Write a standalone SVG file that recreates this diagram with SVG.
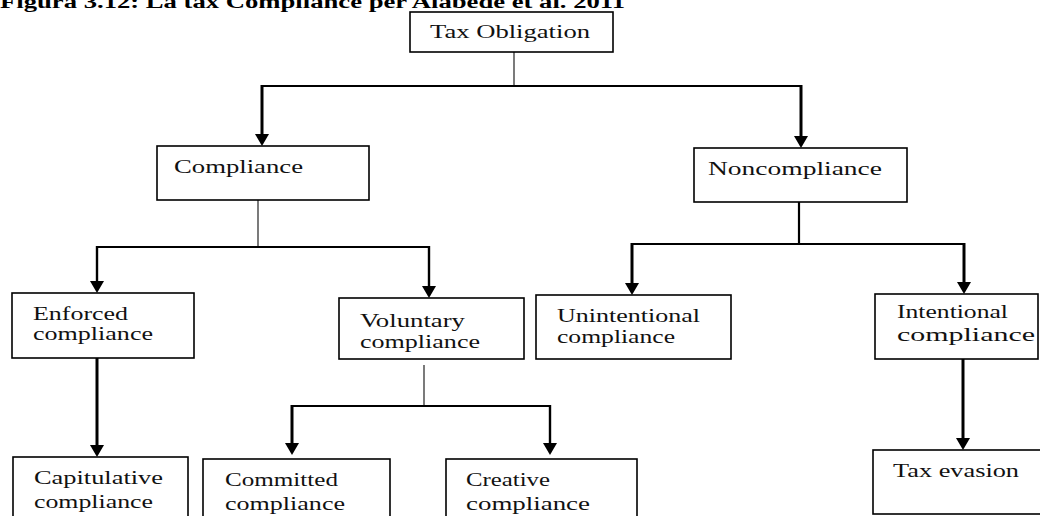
<svg xmlns="http://www.w3.org/2000/svg" width="1040" height="516" viewBox="0 0 1040 516">
  <style>
    .box { fill: #ffffff; stroke: #000000; stroke-width: 1.6; }
    .lbl { font-family: "Liberation Serif", "Times New Roman", serif; font-size: 18.5px; fill: #111111; }
    .title { font-family: "Liberation Serif", "Times New Roman", serif; font-size: 18.5px; font-weight: bold; fill: #000000; }
    .thin { stroke: #222222; stroke-width: 1.2; fill: none; }
    .bar { stroke: #000000; stroke-width: 2.2; fill: none; }
    .shaft { stroke: #000000; stroke-width: 3; fill: none; marker-end: url(#head); }
    .shaft2 { stroke: #000000; stroke-width: 2.4; fill: none; marker-end: url(#head); }
  </style>
  <defs>
    <marker id="head" markerUnits="userSpaceOnUse" viewBox="0 0 12 14" refX="6" refY="7" markerWidth="12" markerHeight="14" orient="auto">
      <path d="M0,0 L12,7 L0,14 Z" fill="#000000"/>
    </marker>
  </defs>

  <rect width="1040" height="516" fill="#ffffff"/>

  <text class="title" x="0" y="8" textLength="625" lengthAdjust="spacingAndGlyphs">Figura 3.12: La tax Compliance per Alabede et al. 2011</text>

  <!-- connectors -->
  <g id="connectors">
    <!-- Tax Obligation split -->
    <line class="thin" x1="514" y1="52" x2="514" y2="86"/>
    <line class="bar" x1="261" y1="86" x2="802" y2="86"/>
    <line class="shaft" x1="262" y1="85" x2="262" y2="140"/>
    <line class="shaft" x1="801" y1="85" x2="801" y2="142"/>
    <!-- Compliance split -->
    <line class="thin" x1="258" y1="200" x2="258" y2="247"/>
    <line class="bar" x1="96" y1="247" x2="430" y2="247"/>
    <line class="shaft2" x1="97" y1="246" x2="97" y2="287"/>
    <line class="shaft2" x1="429" y1="246" x2="429" y2="292"/>
    <!-- Noncompliance split -->
    <line class="bar" x1="799" y1="202" x2="799" y2="244"/>
    <line class="bar" x1="631" y1="244" x2="965" y2="244"/>
    <line class="shaft" x1="632" y1="243" x2="632" y2="289"/>
    <line class="shaft" x1="964" y1="243" x2="964" y2="288"/>
    <!-- Enforced to Capitulative -->
    <line class="shaft" x1="97" y1="358" x2="97" y2="451"/>
    <!-- Voluntary split -->
    <line class="thin" x1="424" y1="365" x2="424" y2="406"/>
    <line class="bar" x1="291" y1="406" x2="551" y2="406"/>
    <line class="shaft" x1="292" y1="405" x2="292" y2="449"/>
    <line class="shaft2" x1="550" y1="405" x2="550" y2="449"/>
    <!-- Intentional to Tax evasion -->
    <line class="shaft" x1="963" y1="359" x2="963" y2="444"/>
  </g>

  <g id="tax-obligation">
    <rect class="box" x="410" y="12" width="203" height="40"/>
    <text class="lbl" x="430" y="38" textLength="160" lengthAdjust="spacingAndGlyphs">Tax Obligation</text>
  </g>

  <g id="compliance">
    <rect class="box" x="157" y="146" width="212" height="54"/>
    <text class="lbl" x="174" y="173" textLength="129" lengthAdjust="spacingAndGlyphs">Compliance</text>
  </g>

  <g id="noncompliance">
    <rect class="box" x="694" y="148" width="213" height="54"/>
    <text class="lbl" x="708" y="175" textLength="174" lengthAdjust="spacingAndGlyphs">Noncompliance</text>
  </g>

  <g id="enforced">
    <rect class="box" x="12" y="293" width="182" height="65"/>
    <text class="lbl" x="33" y="320" textLength="95" lengthAdjust="spacingAndGlyphs">Enforced</text>
    <text class="lbl" x="33" y="340" textLength="120" lengthAdjust="spacingAndGlyphs">compliance</text>
  </g>

  <g id="voluntary">
    <rect class="box" x="339" y="298" width="185" height="61"/>
    <text class="lbl" x="360" y="327" textLength="105" lengthAdjust="spacingAndGlyphs">Voluntary</text>
    <text class="lbl" x="360" y="348" textLength="120" lengthAdjust="spacingAndGlyphs">compliance</text>
  </g>

  <g id="unintentional">
    <rect class="box" x="536" y="295" width="195" height="64"/>
    <text class="lbl" x="557" y="322" textLength="143" lengthAdjust="spacingAndGlyphs">Unintentional</text>
    <text class="lbl" x="557" y="343" textLength="118" lengthAdjust="spacingAndGlyphs">compliance</text>
  </g>

  <g id="intentional">
    <rect class="box" x="875" y="294" width="163" height="65"/>
    <text class="lbl" x="897" y="318" textLength="111" lengthAdjust="spacingAndGlyphs">Intentional</text>
    <text class="lbl" x="897" y="341" textLength="138" lengthAdjust="spacingAndGlyphs">compliance</text>
  </g>

  <g id="capitulative">
    <rect class="box" x="13" y="457" width="175" height="70"/>
    <text class="lbl" x="34" y="484" textLength="129" lengthAdjust="spacingAndGlyphs">Capitulative</text>
    <text class="lbl" x="34" y="508" textLength="119" lengthAdjust="spacingAndGlyphs">compliance</text>
  </g>

  <g id="committed">
    <rect class="box" x="203" y="459" width="187" height="68"/>
    <text class="lbl" x="225" y="486" textLength="113" lengthAdjust="spacingAndGlyphs">Committed</text>
    <text class="lbl" x="225" y="510" textLength="120" lengthAdjust="spacingAndGlyphs">compliance</text>
  </g>

  <g id="creative">
    <rect class="box" x="446" y="459" width="191" height="68"/>
    <text class="lbl" x="466" y="486" textLength="84" lengthAdjust="spacingAndGlyphs">Creative</text>
    <text class="lbl" x="466" y="510" textLength="124" lengthAdjust="spacingAndGlyphs">compliance</text>
  </g>

  <g id="tax-evasion">
    <rect class="box" x="873" y="450" width="170" height="64"/>
    <text class="lbl" x="893" y="477" textLength="126" lengthAdjust="spacingAndGlyphs">Tax evasion</text>
  </g>
</svg>
